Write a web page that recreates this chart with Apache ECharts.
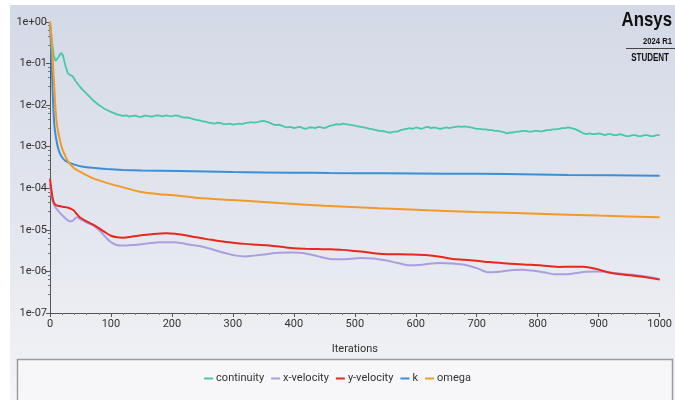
<!DOCTYPE html>
<html>
<head>
<meta charset="utf-8">
<script src="https://cdn.jsdelivr.net/npm/echarts@6/dist/echarts.min.js"></script>
<style>
  html, body { margin: 0; padding: 0; background: #ffffff; }
  #chart { width: 675px; height: 400px; }
</style>
</head>
<body>
<div id="chart"></div>
<script>
// Scaled residuals history, [iteration, residual]
const continuity = [
  [0, 1.0], [3, 0.37], [6, 0.16], [9, 0.115], [11, 0.112], [14, 0.144], [18, 0.18], [21, 0.16],
  [25, 0.092], [29, 0.059], [33, 0.053], [37, 0.050], [42, 0.038], [48, 0.029], [54, 0.023],
  [62, 0.0176], [70, 0.0133], [80, 0.0101], [90, 0.0081], [100, 0.0069], [110, 0.0060],
  [120, 0.0055], [125, 0.0057], [130, 0.0053], [135, 0.0055], [140, 0.0056], [145, 0.0053],
  [150, 0.0052], [155, 0.0056], [160, 0.0055], [165, 0.0053], [170, 0.0054], [175, 0.0057],
  [180, 0.0056], [185, 0.0054], [190, 0.0057], [195, 0.0055], [200, 0.0054], [205, 0.0057],
  [210, 0.0056], [215, 0.0052], [220, 0.0050], [225, 0.0051], [230, 0.0049], [235, 0.0046],
  [240, 0.0044], [245, 0.0043], [250, 0.0041], [255, 0.0040], [260, 0.0038], [265, 0.0037],
  [270, 0.0036], [275, 0.0038], [280, 0.0037], [285, 0.0035], [290, 0.0035], [295, 0.0036],
  [300, 0.0034], [305, 0.0035], [310, 0.0036], [315, 0.0035], [320, 0.0037], [325, 0.0038],
  [330, 0.0039], [335, 0.0038], [340, 0.0039], [345, 0.0041], [350, 0.0042], [355, 0.0040],
  [360, 0.0038], [365, 0.0035], [370, 0.0033], [375, 0.0034], [380, 0.0032], [385, 0.0030],
  [390, 0.0029], [395, 0.0030], [400, 0.0028], [405, 0.0029], [410, 0.0030], [415, 0.0028],
  [420, 0.0027], [425, 0.0029], [430, 0.0029], [435, 0.0028], [440, 0.0030], [445, 0.0029],
  [450, 0.0028], [455, 0.0030], [460, 0.0032], [465, 0.0033], [470, 0.0035], [475, 0.0034],
  [480, 0.0036], [485, 0.0035], [490, 0.0034], [495, 0.0033], [500, 0.0032], [505, 0.0031],
  [510, 0.0030], [515, 0.0029], [520, 0.0028], [525, 0.0027], [530, 0.0026], [535, 0.0025],
  [540, 0.0024], [545, 0.0024], [550, 0.0023], [555, 0.0022], [560, 0.0022], [565, 0.0023],
  [570, 0.0023], [575, 0.0025], [580, 0.0026], [585, 0.0027], [590, 0.0028], [595, 0.0027],
  [600, 0.0029], [605, 0.0028], [610, 0.0027], [615, 0.0029], [620, 0.0030], [625, 0.0028],
  [630, 0.0029], [635, 0.0028], [640, 0.0027], [645, 0.0028], [650, 0.0029], [655, 0.0028],
  [660, 0.0029], [665, 0.0030], [670, 0.0031], [675, 0.0030], [680, 0.0031], [685, 0.0030],
  [690, 0.0029], [695, 0.0028], [700, 0.0027], [705, 0.0027], [710, 0.0026], [715, 0.0026],
  [720, 0.0025], [725, 0.0025], [730, 0.0024], [735, 0.0024], [740, 0.0023], [745, 0.0022],
  [750, 0.0021], [755, 0.0022], [760, 0.0022], [765, 0.0023], [770, 0.0023], [775, 0.0024],
  [780, 0.0024], [785, 0.0023], [790, 0.0023], [795, 0.0024], [800, 0.0024], [805, 0.0023],
  [810, 0.0024], [815, 0.0025], [820, 0.0025], [825, 0.0026], [830, 0.0026], [835, 0.0027],
  [840, 0.0028], [845, 0.0028], [850, 0.0029], [855, 0.0028], [860, 0.0027], [865, 0.0025],
  [870, 0.0023], [875, 0.0021], [880, 0.0020], [885, 0.0021], [890, 0.0020], [895, 0.0020],
  [900, 0.0021], [905, 0.0020], [910, 0.0019], [915, 0.0020], [920, 0.0020], [925, 0.0019],
  [930, 0.0019], [935, 0.0020], [940, 0.0019], [945, 0.0018], [950, 0.0018], [955, 0.0019],
  [960, 0.0019], [965, 0.0018], [970, 0.0018], [975, 0.0019], [980, 0.0019], [985, 0.0018],
  [990, 0.0018], [995, 0.0019], [1000, 0.0019]
];

const xVelocity = [
  [0, 1.3e-4], [3, 6e-5], [6, 4.3e-5], [10, 3.3e-5], [16, 2.6e-5], [22, 2.1e-5], [28, 1.75e-5],
  [33, 1.6e-5], [38, 1.7e-5], [44, 2.0e-5], [50, 1.8e-5], [60, 1.5e-5], [70, 1.3e-5],
  [80, 1.0e-5], [90, 7.0e-6], [98, 5.3e-6], [106, 4.5e-6], [115, 4.2e-6], [125, 4.2e-6],
  [137, 4.3e-6], [150, 4.5e-6], [165, 4.8e-6], [180, 5.0e-6], [191, 5.0e-6], [205, 5.0e-6],
  [215, 4.8e-6], [230, 4.4e-6], [245, 4.1e-6], [260, 3.6e-6], [275, 3.1e-6], [290, 2.7e-6],
  [305, 2.4e-6], [320, 2.3e-6], [335, 2.4e-6], [355, 2.6e-6], [375, 2.8e-6], [395, 2.85e-6],
  [410, 2.8e-6], [425, 2.6e-6], [440, 2.3e-6], [455, 2.05e-6], [470, 1.95e-6], [490, 2.0e-6],
  [510, 2.1e-6], [530, 2.05e-6], [550, 1.85e-6], [570, 1.6e-6], [590, 1.4e-6], [610, 1.45e-6],
  [625, 1.55e-6], [640, 1.6e-6], [660, 1.55e-6], [680, 1.45e-6], [700, 1.2e-6], [720, 9.5e-7],
  [740, 1.0e-6], [760, 1.08e-6], [775, 1.1e-6], [790, 1.05e-6], [810, 9.5e-7], [830, 8.5e-7],
  [845, 8.5e-7], [860, 9.0e-7], [880, 9.8e-7], [895, 1.0e-6], [910, 9.8e-7], [925, 9.2e-7],
  [945, 8.6e-7], [965, 8.0e-7], [985, 7.2e-7], [1000, 6.5e-7]
];

const yVelocity = [
  [0, 1.7e-4], [2, 1.0e-4], [5, 5.2e-5], [8, 4.1e-5], [13, 3.8e-5], [21, 3.6e-5], [30, 3.4e-5],
  [38, 3.0e-5], [44, 2.4e-5], [50, 1.95e-5], [60, 1.6e-5], [70, 1.35e-5], [80, 1.1e-5],
  [90, 8.8e-6], [100, 7.2e-6], [110, 6.6e-6], [120, 6.5e-6], [135, 6.9e-6], [150, 7.4e-6],
  [170, 8.0e-6], [190, 8.3e-6], [205, 8.1e-6], [220, 7.5e-6], [240, 6.6e-6], [260, 5.9e-6],
  [280, 5.3e-6], [300, 4.9e-6], [320, 4.6e-6], [340, 4.4e-6], [360, 4.2e-6], [380, 3.9e-6],
  [400, 3.6e-6], [420, 3.5e-6], [440, 3.45e-6], [460, 3.4e-6], [480, 3.3e-6], [500, 3.1e-6],
  [520, 2.9e-6], [540, 2.65e-6], [560, 2.6e-6], [590, 2.55e-6], [620, 2.45e-6], [640, 2.25e-6],
  [660, 2.0e-6], [680, 1.9e-6], [700, 1.8e-6], [720, 1.68e-6], [750, 1.55e-6], [790, 1.44e-6],
  [820, 1.33e-6], [835, 1.28e-6], [855, 1.3e-6], [875, 1.3e-6], [895, 1.16e-6], [915, 9.6e-7],
  [935, 8.6e-7], [955, 8.0e-7], [975, 7.3e-7], [1000, 6.4e-7]
];

const kResidual = [
  [0, 1.0], [2, 0.2], [4, 0.03], [6, 0.006], [8, 0.0025], [12, 0.0011], [16, 7e-4], [20, 5.5e-4],
  [25, 4.6e-4], [30, 4.2e-4], [40, 3.7e-4], [54, 3.3e-4], [70, 3.1e-4], [93, 2.9e-4],
  [120, 2.75e-4], [150, 2.66e-4], [213, 2.6e-4], [300, 2.45e-4], [400, 2.38e-4], [458, 2.32e-4],
  [550, 2.3e-4], [650, 2.25e-4], [750, 2.2e-4], [850, 2.1e-4], [1000, 2.0e-4]
];

const omega = [
  [0, 1.0], [3, 0.3], [6, 0.05], [9, 0.008], [12, 0.003], [16, 0.0015], [20, 9e-4], [25, 6e-4],
  [30, 4.3e-4], [40, 3e-4], [54, 2.3e-4], [70, 1.75e-4], [93, 1.35e-4], [120, 1.05e-4],
  [147, 8.3e-5], [180, 7.2e-5], [213, 6.6e-5], [245, 5.8e-5], [300, 5.2e-5], [376, 4.4e-5],
  [450, 3.8e-5], [540, 3.3e-5], [620, 2.95e-5], [699, 2.7e-5], [800, 2.45e-5], [900, 2.2e-5],
  [1000, 2.0e-5]
];

const seriesNames = ['continuity', 'x-velocity', 'y-velocity', 'k', 'omega'];
const seriesColors = ['#45c9a8', '#a99ee0', '#e8271d', '#3a8fd8', '#f39a26'];
const seriesData = [continuity, xVelocity, yVelocity, kResidual, omega];
const seriesSmooth = [false, 0.3, 0.3, 0.2, 0.2];
const seriesWidth = [1.8, 2, 2, 2, 2];

const FONT = 'Roboto';
const BADGE_FONT = '"Liberation Sans", Arial, sans-serif';

function expLabel(v) {
  const e = Math.round(Math.log10(v));
  const a = Math.abs(e);
  return '1e' + (e < 0 ? '-' : '+') + (a < 10 ? '0' : '') + a;
}

// right-aligned, horizontally condensed text for the product badge
function badgeText(str, x, y, size, sx) {
  return {
    type: 'text', silent: true, x: x, y: y, scaleX: sx,
    style: {
      x: 0, y: 0, text: str, textAlign: 'right', textVerticalAlign: 'top',
      font: 'bold ' + size + 'px ' + BADGE_FONT, fill: '#111111'
    }
  };
}

const chart = echarts.init(document.getElementById('chart'), null, { renderer: 'canvas' });

chart.setOption({
  animation: false,
  backgroundColor: '#ffffff',
  graphic: [
    {
      type: 'rect', z: -10, silent: true,
      shape: { x: 10, y: 5, width: 665, height: 395 },
      style: {
        fill: new echarts.graphic.LinearGradient(0, 0, 0, 1, [
          { offset: 0, color: '#d3d9e6' },
          { offset: 0.55, color: '#e3e6ee' },
          { offset: 1, color: '#f3f4f7' }
        ])
      }
    },
    {
      type: 'rect', z: -5, silent: true,
      shape: { x: 17.5, y: 359.5, width: 655, height: 45 },
      style: { fill: '#f7f7f9', stroke: '#9c9c9c', lineWidth: 1.5 }
    },
    badgeText('Ansys', 672, 10, 21, 0.8),
    badgeText('2024 R1', 672, 37, 9, 0.85),
    {
      type: 'line', silent: true,
      shape: { x1: 626, y1: 48.5, x2: 675, y2: 48.5 },
      style: { stroke: '#444444', lineWidth: 1 }
    },
    badgeText('STUDENT', 669, 53, 10, 0.8)
  ],
  grid: { left: 50, right: 14, top: 22, bottom: 87, containLabel: false },
  legend: {
    data: seriesNames,
    bottom: 11,
    left: 'center',
    icon: 'rect',
    itemWidth: 9,
    itemHeight: 2,
    itemGap: 7,
    textStyle: { fontFamily: FONT, fontSize: 11, color: '#333333', padding: [0, 0, 0, -2] }
  },
  xAxis: {
    type: 'value',
    min: 0, max: 1000, interval: 100,
    name: 'Iterations',
    nameLocation: 'middle',
    nameGap: 31,
    nameTextStyle: { fontFamily: FONT, fontSize: 11, color: '#333333' },
    axisLine: { lineStyle: { color: '#555555', width: 1 } },
    axisTick: { show: true, length: 4, lineStyle: { color: '#555555' } },
    minorTick: { show: true, splitNumber: 5, length: 2, lineStyle: { color: '#777777' } },
    splitLine: { show: false },
    axisLabel: { fontFamily: FONT, fontSize: 11, color: '#333333', margin: 6, formatter: v => String(v) }
  },
  yAxis: {
    type: 'log',
    logBase: 10,
    min: 1e-7, max: 1,
    splitNumber: 7,
    axisLine: { show: true, lineStyle: { color: '#555555', width: 1 } },
    axisTick: { show: true, length: 4, lineStyle: { color: '#555555' } },
    minorTick: { show: true, splitNumber: 5, length: 2, lineStyle: { color: '#777777' } },
    splitLine: { show: false },
    axisLabel: { fontFamily: FONT, fontSize: 11, color: '#333333', margin: 3, formatter: expLabel }
  },
  series: seriesNames.map((name, i) => ({
    name: name,
    type: 'line',
    data: seriesData[i],
    showSymbol: false,
    symbol: 'none',
    smooth: seriesSmooth[i],
    color: seriesColors[i],
    lineStyle: { width: seriesWidth[i], color: seriesColors[i] },
    z: 2 + i
  }))
});
</script>
</body>
</html>
